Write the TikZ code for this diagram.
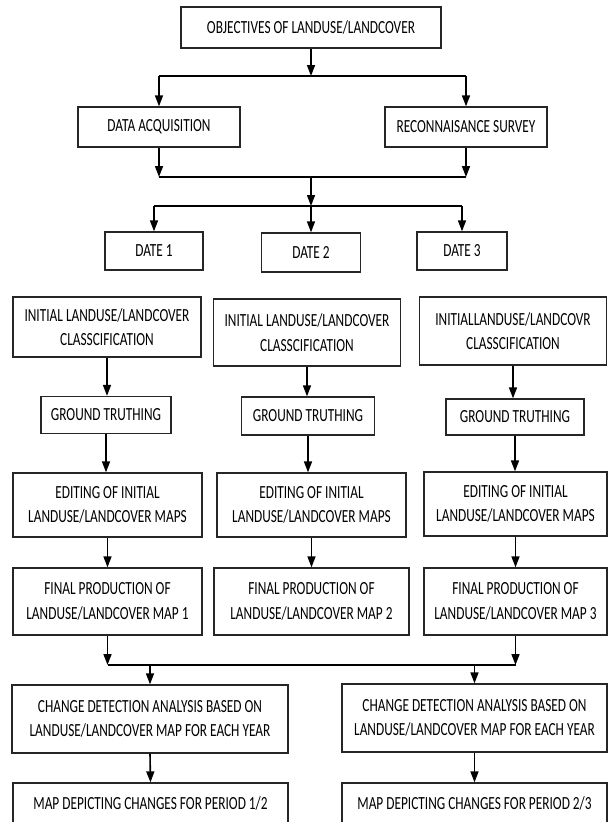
\documentclass[tikz,border=0pt]{standalone}
\usepackage{fontspec}
\setmainfont{Carlito}[FakeStretch=0.72]
\usetikzlibrary{arrows.meta}

\begin{document}
\begin{tikzpicture}[x=1pt, y=-1pt,
    box/.style={draw=black!85, line width=1.3pt, inner sep=0pt, align=center,
        font=\fontsize{18.5}{24.5}\selectfont, text=black},
    arr/.style={line width=1.6pt, -{Triangle[length=11pt,width=8pt]}},
    bus/.style={line width=1.6pt}]
    \useasboundingbox (0,0) rectangle (609,822);
    \clip (0,0) rectangle (609,822);

    % Objectives and first split
    \node[box, minimum width=260pt, minimum height=41pt] (obj) at (311,27.5) {OBJECTIVES OF LANDUSE/LANDCOVER};
    \node[box, minimum width=162pt, minimum height=40pt] (data) at (159,127) {DATA ACQUISITION};
    \node[box, minimum width=162pt, minimum height=40pt] (recon) at (466,127) {RECONNAISANCE SURVEY};

    % Dates
    \node[box, minimum width=98pt, minimum height=38pt] (date1) at (154,251) {DATE 1};
    \node[box, minimum width=99pt, minimum height=39pt] (date2) at (311,252.5) {DATE 2};
    \node[box, minimum width=90pt, minimum height=38pt] (date3) at (462,251) {DATE 3};

    % Three processing columns
    \node[box, minimum width=188pt, minimum height=60pt] (init1) at (107,327) {INITIAL LANDUSE/LANDCOVER\\CLASSCIFICATION};
    \node[box, minimum width=187pt, minimum height=67pt] (init2) at (307,332.5) {INITIAL LANDUSE/LANDCOVER\\CLASSCIFICATION};
    \node[box, minimum width=187pt, minimum height=68pt] (init3) at (513,331) {INITIALLANDUSE/LANDCOVR\\CLASSCIFICATION};

    \node[box, minimum width=130pt, minimum height=37pt] (gt1) at (106,415) {GROUND TRUTHING};
    \node[box, minimum width=133pt, minimum height=38pt] (gt2) at (308,416) {GROUND TRUTHING};
    \node[box, minimum width=138pt, minimum height=36pt] (gt3) at (515,417) {GROUND TRUTHING};

    \node[box, minimum width=189pt, minimum height=64pt] (edit1) at (107.5,505) {EDITING OF INITIAL\\LANDUSE/LANDCOVER MAPS};
    \node[box, minimum width=189pt, minimum height=64pt] (edit2) at (311.5,505) {EDITING OF INITIAL\\LANDUSE/LANDCOVER MAPS};
    \node[box, minimum width=183pt, minimum height=64pt] (edit3) at (515.5,504) {EDITING OF INITIAL\\LANDUSE/LANDCOVER MAPS};

    \node[box, minimum width=189pt, minimum height=67pt] (fin1) at (107.5,601.5) {FINAL PRODUCTION OF\\LANDUSE/LANDCOVER MAP 1};
    \node[box, minimum width=195pt, minimum height=67pt] (fin2) at (311.5,601.5) {FINAL PRODUCTION OF\\LANDUSE/LANDCOVER MAP 2};
    \node[box, minimum width=183pt, minimum height=67pt] (fin3) at (515.5,601.5) {FINAL PRODUCTION OF\\LANDUSE/LANDCOVER MAP 3};

    % Change detection and results
    \node[box, minimum width=276pt, minimum height=68pt] (cd1) at (150,719) {CHANGE DETECTION ANALYSIS BASED ON\\LANDUSE/LANDCOVER MAP FOR EACH YEAR};
    \node[box, minimum width=265pt, minimum height=68pt] (cd2) at (474.5,718) {CHANGE DETECTION ANALYSIS BASED ON\\LANDUSE/LANDCOVER MAP FOR EACH YEAR};
    \node[box, minimum width=275pt, minimum height=41pt] (map1) at (150.5,803.5) {MAP DEPICTING CHANGES FOR PERIOD 1/2};
    \node[box, minimum width=265pt, minimum height=41pt] (map2) at (474.5,803.5) {MAP DEPICTING CHANGES FOR PERIOD 2/3};

    % Junctions
    \coordinate (j1) at (311,76);
    \coordinate (j2) at (311,177);
    \coordinate (j3) at (311,206);
    \coordinate (j4) at (311,665);

    \draw[arr] (obj.south) -- (j1);
    \draw[bus] (data.north |- j1) -- (recon.north |- j1);
    \draw[arr] (data.north |- j1) -- (data.north);
    \draw[arr] (recon.north |- j1) -- (recon.north);

    \draw[arr] (data.south) -- (data.south |- j2);
    \draw[arr] (recon.south) -- (recon.south |- j2);
    \draw[bus] (data.south |- j2) -- (recon.south |- j2);
    \draw[arr] (j2) -- (j3);
    \draw[bus] (date1.north |- j3) -- (date3.north |- j3);
    \foreach \i in {1,2,3} {
        \draw[arr] (date\i.north |- j3) -- (date\i.north);
    }

    % Column arrows
    \foreach \i in {1,2,3} {
        \draw[arr] (init\i.south) -- (init\i.south |- gt\i.north);
        \draw[arr] (gt\i.south) -- (gt\i.south |- edit\i.north);
        \draw[arr] (edit\i.south) -- (edit\i.south |- fin\i.north);
    }

    % Merge into change detection
    \draw[arr] (fin1.south) -- (fin1.south |- j4);
    \draw[arr] (fin3.south) -- (fin3.south |- j4);
    \draw[bus] (fin1.south |- j4) -- (fin3.south |- j4);
    \draw[arr] (cd1.north |- j4) -- (cd1.north);
    \draw[arr] (cd2.north |- j4) -- (cd2.north);
    \draw[arr] (cd1.south) -- (map1.north);
    \draw[arr] (cd2.south) -- (map2.north);
\end{tikzpicture}
\end{document}
